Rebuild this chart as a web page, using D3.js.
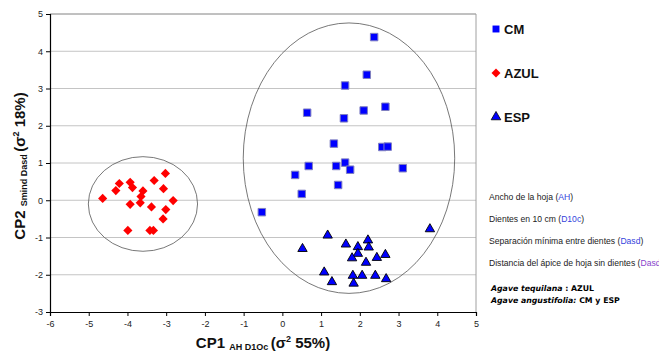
<!DOCTYPE html>
<html>
<head>
<meta charset="utf-8">
<script src="https://cdn.jsdelivr.net/npm/d3@7"></script>
<style>
  body { margin: 0; background: #fff; }
  svg { font-family: "Liberation Sans", Arial, sans-serif; }
</style>
</head>
<body>
<div id="chart"></div>
<script>
// CM (squares)
const cmX = [2.37, 2.18, 1.62, 0.64, 1.59, 2.10, 2.66, 1.33, 2.58, 2.72, 0.68, 1.39, 1.62, 1.75, 0.33, 1.44, 0.50, 3.11, -0.53];
const cmY = [4.38, 3.37, 3.08, 2.35, 2.20, 2.41, 2.51, 1.52, 1.43, 1.44, 0.92, 0.92, 1.01, 0.82, 0.68, 0.41, 0.17, 0.86, -0.32];

// AZUL (diamonds)
const azulX = [-4.64, -4.30, -4.21, -3.93, -3.87, -3.60, -3.65, -3.67, -3.93, -3.31, -3.02, -3.07, -2.82, -3.38, -3.01, -3.08, -3.99, -3.42, -3.33];
const azulY = [0.05, 0.26, 0.45, 0.48, 0.34, 0.25, 0.10, -0.07, -0.11, 0.53, 0.72, 0.31, -0.01, -0.18, -0.25, -0.50, -0.81, -0.81, -0.81];

// ESP (triangles)
const espX = [1.17, 0.52, 1.64, 1.95, 2.21, 2.23, 1.95, 1.80, 2.16, 2.44, 2.66, 1.08, 1.28, 1.82, 2.06, 1.84, 2.40, 2.68, 3.81];
const espY = [-0.93, -1.29, -1.17, -1.24, -1.06, -1.25, -1.42, -1.54, -1.66, -1.53, -1.45, -1.92, -2.18, -2.01, -2.01, -2.22, -2.01, -2.10, -0.76];

// group ellipses: [cx, cy, rx, ry] in data units
const groupEllipses = [[-3.60, -0.10, 1.41, 1.27], [1.72, 1.13, 2.73, 3.63]];

const xTicks = [-6, -5, -4, -3, -2, -1, 0, 1, 2, 3, 4, 5];
const yTicks = [-3, -2, -1, 0, 1, 2, 3, 4, 5];
const legendLabels = ['CM', 'AZUL', 'ESP'];
const varNames = ['Ancho de la hoja ', 'Dientes en 10 cm ', 'Separación mínima entre dientes ', 'Distancia del ápice de hoja sin dientes '];
const varCodes = ['AH', 'D10c', 'Dasd', 'Dasd'];

const width = 659, height = 362;
const svg = d3.select('#chart').append('svg')
  .attr('width', width)
  .attr('height', height);

const x = d3.scaleLinear().domain([-6, 5]).range([50, 476]);
const y = d3.scaleLinear().domain([-3, 5]).range([312, 14]);

// gridlines
svg.append('g')
  .selectAll('line')
  .data(yTicks.filter(d => d > -3))
  .join('line')
    .attr('x1', x(-6)).attr('x2', x(5))
    .attr('y1', d => y(d)).attr('y2', d => y(d))
    .attr('stroke', '#c4c4c4')
    .attr('stroke-width', 1);

// plot area border (top + right)
svg.append('line')
  .attr('x1', x(5)).attr('x2', x(5))
  .attr('y1', y(5)).attr('y2', y(-3))
  .attr('stroke', '#a0a0a0');
svg.append('line')
  .attr('x1', x(-6)).attr('x2', x(5))
  .attr('y1', y(5)).attr('y2', y(5))
  .attr('stroke', '#a0a0a0');

// axes
const fmt = d => String(d);
const xAxis = svg.append('g')
  .attr('transform', 'translate(0,' + y(-3) + ')')
  .call(d3.axisBottom(x).tickValues(xTicks).tickSize(4).tickPadding(5).tickFormat(fmt));
const yAxis = svg.append('g')
  .attr('transform', 'translate(' + x(-6) + ',0)')
  .call(d3.axisLeft(y).tickValues(yTicks).tickSize(4).tickPadding(3).tickFormat(fmt));

[xAxis, yAxis].forEach(ax => {
  ax.select('.domain').attr('stroke', '#000').attr('stroke-width', 1.2);
  ax.selectAll('.tick line').attr('stroke', '#000');
  ax.selectAll('.tick text')
    .attr('fill', '#222')
    .style('font-family', '"Liberation Sans", Arial, sans-serif')
    .style('font-size', '9px');
});

// ellipses
svg.append('g')
  .selectAll('ellipse')
  .data(groupEllipses)
  .join('ellipse')
    .attr('cx', d => x(d[0]))
    .attr('cy', d => y(d[1]))
    .attr('rx', d => x(d[2]) - x(0))
    .attr('ry', d => y(0) - y(d[3]))
    .attr('fill', 'none')
    .attr('stroke', '#555')
    .attr('stroke-width', 0.8);

const symSquare = d3.symbol().type(d3.symbolSquare).size(56);
const symDiamond = d3.symbol().type(d3.symbolSquare).size(42);
const symTriangle = d3.symbol().type(d3.symbolTriangle).size(38);

// CM points
svg.append('g')
  .selectAll('path')
  .data(d3.zip(cmX, cmY))
  .join('path')
    .attr('d', symSquare)
    .attr('transform', d => 'translate(' + x(d[0]) + ',' + y(d[1]) + ')')
    .attr('fill', '#0000ff')
    .attr('stroke', '#8080c0')
    .attr('stroke-width', 1);

// AZUL points (square turned 45 degrees)
svg.append('g')
  .selectAll('path')
  .data(d3.zip(azulX, azulY))
  .join('path')
    .attr('d', symDiamond)
    .attr('transform', d => 'translate(' + x(d[0]) + ',' + y(d[1]) + ') rotate(45)')
    .attr('fill', '#ff0000');

// ESP points
svg.append('g')
  .selectAll('path')
  .data(d3.zip(espX, espY))
  .join('path')
    .attr('d', symTriangle)
    .attr('transform', d => 'translate(' + x(d[0]) + ',' + (y(d[1]) + 0.5) + ')')
    .attr('fill', '#0000ff')
    .attr('stroke', '#000')
    .attr('stroke-width', 0.9);

// legend
const legend = svg.append('g').attr('transform', 'translate(496,29)');
const legendSym = [
  { d: d3.symbol().type(d3.symbolSquare).size(48)(), fill: '#0000ff', stroke: 'none', rot: 0 },
  { d: d3.symbol().type(d3.symbolSquare).size(40)(), fill: '#ff0000', stroke: 'none', rot: 45 },
  { d: d3.symbol().type(d3.symbolTriangle).size(40)(), fill: '#0000ff', stroke: '#000', rot: 0 }
];
legendLabels.forEach((lab, i) => {
  const g = legend.append('g').attr('transform', 'translate(0,' + i * 44 + ')');
  g.append('path').attr('d', legendSym[i].d)
    .attr('transform', 'rotate(' + legendSym[i].rot + ')')
    .attr('fill', legendSym[i].fill)
    .attr('stroke', legendSym[i].stroke)
    .attr('stroke-width', 0.8);
  g.append('text')
    .attr('x', 8).attr('y', 5)
    .attr('font-size', 13).attr('font-weight', 'bold')
    .attr('fill', '#111')
    .text(lab);
});

// variable notes
varNames.forEach((nm, i) => {
  const t = svg.append('text')
    .attr('x', 489).attr('y', 200 + i * 22)
    .attr('font-size', 8.6)
    .attr('fill', '#222');
  t.append('tspan').text(nm + '(');
  t.append('tspan').attr('fill', i === 3 ? '#8844cc' : '#3344dd').text(varCodes[i]);
  t.append('tspan').text(')');
});

svg.append('text')
  .attr('x', 491).attr('y', 291)
  .attr('font-family', '"DejaVu Sans", sans-serif')
  .attr('font-size', 7.8).attr('font-weight', 'bold')
  .call(t => {
    t.append('tspan').attr('font-style', 'italic').text('Agave tequilana');
    t.append('tspan').text(' :  AZUL');
  });
svg.append('text')
  .attr('x', 491).attr('y', 303)
  .attr('font-family', '"DejaVu Sans", sans-serif')
  .attr('font-size', 7.8).attr('font-weight', 'bold')
  .call(t => {
    t.append('tspan').attr('font-style', 'italic').text('Agave angustifolia:');
    t.append('tspan').text('  CM y ESP');
  });

// axis titles
const xTitle = svg.append('text')
  .attr('x', 263).attr('y', 348)
  .attr('text-anchor', 'middle')
  .attr('font-weight', 'bold')
  .attr('font-size', 15)
  .attr('fill', '#111');
xTitle.append('tspan').text('CP1 ');
xTitle.append('tspan').attr('font-size', 9).attr('dy', 2).text('AH  D1Oc ');
xTitle.append('tspan').attr('dy', -2).text('(σ');
xTitle.append('tspan').attr('font-size', 9).attr('dy', -6).text('2');
xTitle.append('tspan').attr('dy', 6).text(' 55%)');

const yTitle = svg.append('text')
  .attr('transform', 'translate(25,166) rotate(-90)')
  .attr('text-anchor', 'middle')
  .attr('font-weight', 'bold')
  .attr('font-size', 15)
  .attr('fill', '#111');
yTitle.append('tspan').text('CP2 ');
yTitle.append('tspan').attr('font-size', 9).attr('dy', 2).text('Smind  Dasd ');
yTitle.append('tspan').attr('dy', -2).text('(σ');
yTitle.append('tspan').attr('font-size', 9).attr('dy', -6).text('2');
yTitle.append('tspan').attr('dy', 6).text(' 18%)');
</script>
</body>
</html>
